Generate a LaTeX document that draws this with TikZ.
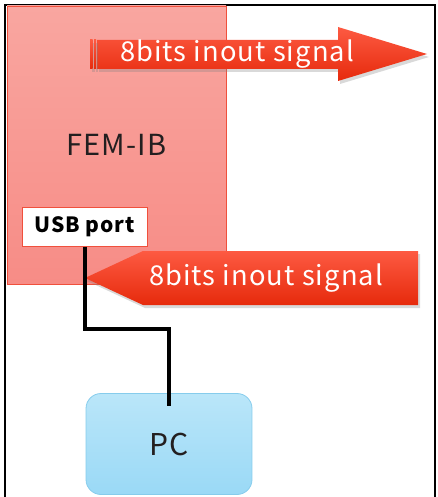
\documentclass[tikz,border=0pt]{standalone}
\usepackage{fontspec}
\setmainfont{Noto Sans CJK JP}
\newfontfamily\labelfont[LetterSpace=4]{Noto Sans CJK JP}
\usetikzlibrary{shadows}

\definecolor{femfill}{RGB}{249,166,160}
\definecolor{femfilldark}{RGB}{247,140,134}
\definecolor{femline}{RGB}{240,80,60}
\definecolor{sigtop}{RGB}{253,90,66}
\definecolor{sigbot}{RGB}{230,42,12}
\definecolor{pctop}{RGB}{186,230,249}
\definecolor{pcbot}{RGB}{154,217,246}
\definecolor{pcline}{RGB}{134,204,236}
\definecolor{ink}{RGB}{35,31,32}

\tikzset{
  board/.style={draw=femline, line width=0.8pt, top color=femfill, bottom color=femfilldark,
    minimum width=219pt, minimum height=278pt, inner sep=0pt, text=ink,
    font=\labelfont\fontsize{29}{29}\selectfont},
  port/.style={draw=femline, line width=1pt, fill=white, inner sep=0pt,
    minimum width=125pt, minimum height=39pt,
    font=\labelfont\bfseries\fontsize{21}{21}\selectfont},
  host/.style={draw=pcline, line width=0.8pt, rounded corners=15pt, top color=pctop,
    bottom color=pcbot, minimum width=166pt, minimum height=101pt, inner sep=0pt,
    text=ink, font=\labelfont\fontsize{30}{30}\selectfont},
  sigfill/.style={top color=sigtop, bottom color=sigbot,
    drop shadow={shadow xshift=2pt, shadow yshift=-3pt, opacity=0.3}},
  sigtext/.style={text=white, inner sep=0pt, font=\labelfont\fontsize{27.3}{27.3}\selectfont},
  wire/.style={line width=4pt}
}

\begin{document}
\begin{tikzpicture}[x=1pt, y=-1pt]
\useasboundingbox (0,0) rectangle (437,497);
\clip (0,0) rectangle (437,497);

% frame
\draw[line width=2pt] (5,520) -- (5,5) -- (435,5) -- (435,520);

% board and its port
\node[board] (fem) at (116.5,145) {FEM-IB};
\node[port] (usb) at (84.5,226.5) {USB port};

% outgoing signal
\path[sigfill] (97,40) -- (338,40) -- (338,27) -- (427,54) -- (338,81) -- (338,69) -- (97,69) -- cycle;
\path[sigfill] (90,40) rectangle (92.5,69);
\path[sigfill] (94,40) rectangle (96,69);
\node[sigtext] (out) at (237,54) {8bits inout signal};

% incoming signal
\path[sigfill] (85,278) -- (143,251) -- (418,251) -- (418,305) -- (143,305) -- cycle;
\node[sigtext] (in) at (266,278) {8bits inout signal};

% host and cable
\node[host] (pc) at (169,444) {PC};
\draw[wire] (usb.south) -- ++(0,82) -| ([yshift=-13pt]pc.north);
\end{tikzpicture}
\end{document}
